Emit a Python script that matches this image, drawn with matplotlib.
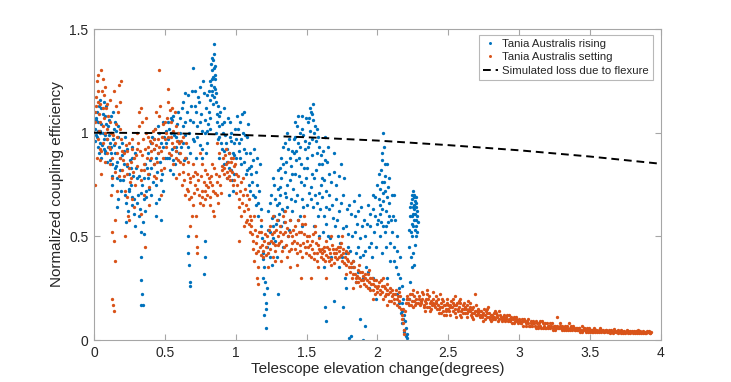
import matplotlib
matplotlib.use("Agg")
import matplotlib.pyplot as plt

plt.rcParams['font.family'] = ['Liberation Sans', 'DejaVu Sans']

# ---- data ----
rising_points = [
    (0.01,1.02),(0.02,0.98),(0.03,1.05),(0.04,0.95),(0.05,1.12),(0.06,1.0),(0.07,0.92),(0.08,1.08),(0.09,0.97),(0.02,1.1),(0.05,0.88),(0.07,1.15),(0.1,1.03),(0.04,1.0),(0.08,0.9),
    (0.11,0.95),(0.12,1.08),(0.13,0.85),(0.14,1.02),(0.15,0.9),(0.16,0.78),(0.17,0.98),(0.18,0.88),(0.19,0.72),(0.12,0.93),(0.15,1.05),(0.18,0.82),(0.2,0.95),(0.13,0.75),(0.17,0.68),
    (0.21,0.85),(0.22,0.7),(0.23,0.92),(0.24,0.62),(0.25,0.8),(0.26,0.75),(0.27,0.88),(0.28,0.68),(0.29,0.55),(0.3,0.78),(0.22,0.98),(0.25,0.72),(0.27,0.65),(0.29,0.9),(0.26,0.83),
    (0.31,0.7),(0.32,0.6),(0.33,0.52),(0.34,0.75),(0.35,0.68),(0.36,0.85),(0.37,0.72),(0.38,0.9),(0.39,0.8),(0.4,0.95),(0.33,0.4),(0.335,0.29),(0.34,0.22),(0.33,0.17),(0.345,0.17),(0.36,0.62),(0.38,0.78),(0.4,0.7),
    (0.41,0.98),(0.42,0.85),(0.43,1.02),(0.44,0.75),(0.45,0.9),(0.46,0.68),(0.47,0.95),(0.48,0.8),(0.49,1.05),(0.5,0.88),(0.44,0.6),(0.47,0.58),(0.42,0.92),(0.46,1.0),(0.49,0.72),
    (0.51,0.95),(0.52,1.05),(0.53,0.88),(0.54,1.0),(0.55,0.92),(0.56,1.08),(0.57,0.85),(0.58,0.98),(0.59,1.1),(0.6,0.9),(0.53,1.02),(0.56,0.8),(0.58,0.93),(0.55,1.06),
    (0.61,1.0),(0.62,1.12),(0.63,0.95),(0.64,1.05),(0.65,0.88),(0.66,1.18),(0.67,1.0),(0.68,0.9),(0.69,1.2),(0.7,1.05),(0.66,0.5),(0.665,0.42),(0.67,0.36),(0.675,0.28),(0.68,0.26),(0.63,1.15),(0.70,1.31),
    (0.71,1.2),(0.72,1.1),(0.73,0.98),(0.74,1.15),(0.75,1.05),(0.76,0.92),(0.77,1.25),(0.78,1.0),(0.79,1.12),(0.8,0.95),(0.72,0.88),(0.75,1.22),(0.78,0.48),(0.78,0.4),(0.775,0.32),(0.79,0.9),(0.8,1.18),
    (0.81,1.1),(0.82,1.25),(0.83,1.3),(0.835,1.2),(0.84,1.35),(0.845,1.22),(0.85,1.38),(0.855,1.28),(0.86,1.15),(0.87,1.05),(0.88,0.98),(0.89,1.1),(0.9,0.92),(0.85,1.43),(0.83,1.18),(0.84,1.27),(0.86,1.0),(0.88,0.88),(0.82,1.02),
    (0.91,1.0),(0.92,0.85),(0.93,0.95),(0.94,0.78),(0.95,0.9),(0.96,1.05),(0.97,0.82),(0.98,0.72),(0.99,0.95),(1.0,0.88),(0.92,1.12),(0.95,0.7),(0.97,1.0),(0.99,0.8),
    (1.01,1.08),(1.02,0.95),(1.03,1.05),(1.04,0.85),(1.05,1.0),(1.06,0.92),(1.07,0.8),(1.08,0.98),(1.09,0.75),(1.1,0.9),(1.03,0.88),(1.06,1.1),(1.08,0.82),(1.1,0.72),
    (1.11,0.8),(1.12,0.7),(1.13,0.92),(1.14,0.65),(1.15,0.75),(1.16,0.6),(1.17,0.85),(1.18,0.55),(1.19,0.42),(1.2,0.35),(1.19,0.3),(1.2,0.22),(1.21,0.18),(1.2,0.12),(1.21,0.06),(1.22,0.25),(1.15,0.88),
    (1.22,0.45),(1.23,0.62),(1.24,0.4),(1.25,0.7),(1.26,0.55),(1.27,0.75),(1.28,0.48),(1.29,0.65),(1.3,0.82),(1.24,0.52),(1.27,0.6),(1.29,0.4),(1.3,0.58),(1.26,0.78),(1.30,0.22),
    (1.31,0.7),(1.32,0.55),(1.33,0.85),(1.34,0.62),(1.35,0.95),(1.36,0.75),(1.37,0.5),(1.38,0.88),(1.39,0.68),(1.4,0.8),(1.33,0.45),(1.36,1.0),(1.38,0.58),(1.32,0.78),
    (1.41,0.9),(1.42,1.05),(1.43,0.7),(1.44,0.95),(1.45,0.6),(1.46,0.85),(1.47,1.08),(1.48,0.75),(1.49,0.92),(1.5,0.65),(1.42,0.8),(1.45,1.0),(1.47,0.55),(1.5,0.88),
    (1.51,1.05),(1.52,0.95),(1.53,1.1),(1.54,0.8),(1.55,1.0),(1.56,0.7),(1.57,0.9),(1.58,0.6),(1.59,0.85),(1.6,0.75),(1.53,0.68),(1.55,0.55),(1.57,1.02),(1.59,0.5),
    (1.61,0.85),(1.62,0.6),(1.63,0.98),(1.64,0.72),(1.65,0.5),(1.66,0.8),(1.67,0.4),(1.68,0.65),(1.69,0.9),(1.7,0.55),(1.63,0.16),(1.64,0.09),(1.69,0.19),(1.62,0.35),(1.66,0.7),
    (1.71,0.75),(1.72,0.5),(1.73,0.62),(1.74,0.85),(1.75,0.4),(1.76,0.7),(1.77,0.3),(1.78,0.55),(1.79,0.45),(1.8,0.65),(1.76,0.16),(1.78,0.25),(1.8,0.01),(1.81,0.02),(1.73,0.35),
    (1.82,0.5),(1.83,0.35),(1.84,0.6),(1.85,0.28),(1.86,0.45),(1.87,0.7),(1.88,0.4),(1.89,0.55),(1.9,0.3),(1.88,0.1),(1.91,0.07),(1.9,0.0),(1.84,0.52),(1.86,0.62),
    (1.91,0.5),(1.92,0.35),(1.93,0.65),(1.94,0.25),(1.95,0.55),(1.96,0.4),(1.97,0.7),(1.98,0.6),(1.99,0.45),(2.0,0.75),(1.94,0.45),(1.97,0.3),(1.99,0.2),
    (2.01,0.8),(2.02,0.65),(2.03,0.9),(2.04,0.55),(2.04,1.0),(2.05,0.72),(2.06,0.45),(2.07,0.85),(2.08,0.6),(2.09,0.38),(2.1,0.7),(2.02,0.5),(2.05,0.85),(2.07,0.3),(2.03,0.42),(2.06,0.62),(2.08,0.78),
    (2.11,0.6),(2.12,0.45),(2.13,0.35),(2.14,0.5),(2.15,0.25),(2.16,0.4),(2.17,0.18),(2.18,0.1),(2.19,0.05),(2.2,0.02),(2.21,0.01),(2.18,0.2),(2.16,0.3),(2.19,0.12),(2.2,0.06),(2.14,0.22),(2.12,0.7),(2.17,0.08),
    (2.22,0.45),(2.23,0.6),(2.24,0.68),(2.25,0.55),(2.26,0.65),(2.27,0.5),(2.28,0.62),(2.24,0.35),(2.25,0.72),(2.26,0.58),(2.27,0.66),(2.23,0.28),(2.28,0.52),(2.25,0.42),(2.26,0.7),(2.24,0.6),(2.27,0.58),(2.22,0.2),
]

rising_points_b = [
    (0.005,0.96),(0.015,1.07),(0.025,0.93),(0.035,1.13),(0.045,1.01),(0.055,0.94),(0.065,1.09),(0.075,0.99),(0.085,1.04),(0.095,0.86),(0.015,0.99),(0.045,1.16),(0.075,0.91),
    (0.105,0.99),(0.115,0.87),(0.125,0.79),(0.135,0.97),(0.145,0.83),(0.155,1.01),(0.165,0.86),(0.175,0.93),(0.185,0.77),(0.195,0.89),(0.135,1.1),(0.165,0.64),
    (0.205,0.77),(0.215,0.91),(0.225,0.66),(0.235,0.84),(0.245,0.73),(0.255,0.87),(0.265,0.69),(0.275,0.79),(0.285,0.61),(0.295,0.83),(0.225,0.57),(0.265,0.93),
    (0.305,0.66),(0.315,0.79),(0.325,0.63),(0.335,0.71),(0.345,0.57),(0.355,0.78),(0.365,0.69),(0.375,0.83),(0.385,0.73),(0.395,0.87),(0.355,0.51),
    (0.405,0.83),(0.415,0.76),(0.425,0.97),(0.435,0.88),(0.445,0.81),(0.455,1.03),(0.465,0.86),(0.475,0.77),(0.485,0.93),(0.495,0.98),(0.435,0.66),
    (0.505,1.01),(0.515,0.88),(0.525,0.97),(0.535,0.82),(0.545,1.07),(0.555,0.87),(0.565,0.99),(0.575,0.91),(0.585,1.04),(0.595,0.96),
    (0.605,1.07),(0.615,0.93),(0.625,1.03),(0.635,0.87),(0.645,0.99),(0.655,1.1),(0.665,0.93),(0.675,1.06),(0.685,1.13),(0.695,0.97),(0.645,1.19),
    (0.705,0.96),(0.715,1.13),(0.725,1.03),(0.735,1.17),(0.745,0.94),(0.755,1.09),(0.765,1.01),(0.775,1.19),(0.785,1.06),(0.795,1.01),(0.765,0.88),
    (0.805,1.04),(0.815,1.16),(0.825,1.33),(0.835,1.26),(0.845,1.17),(0.855,1.32),(0.865,1.09),(0.875,1.13),(0.885,1.03),(0.895,0.95),(0.835,1.36),(0.845,1.31),(0.855,1.21),
    (0.905,1.04),(0.915,0.91),(0.925,0.99),(0.935,0.86),(0.945,1.07),(0.955,0.83),(0.965,0.96),(0.975,0.77),(0.985,0.89),(0.995,1.02),
    (1.005,0.97),(1.015,1.02),(1.025,0.91),(1.035,0.97),(1.045,1.09),(1.055,0.86),(1.065,0.99),(1.075,0.9),(1.085,1.04),(1.095,0.83),
    (1.105,0.84),(1.115,0.76),(1.125,0.87),(1.135,0.69),(1.145,0.81),(1.155,0.66),(1.165,0.72),(1.175,0.63),(1.185,0.49),(1.195,0.39),(1.205,0.28),(1.215,0.15),
    (1.225,0.53),(1.235,0.47),(1.245,0.66),(1.255,0.59),(1.265,0.49),(1.275,0.68),(1.285,0.56),(1.295,0.73),(1.255,0.36),
    (1.305,0.66),(1.315,0.83),(1.325,0.63),(1.335,0.93),(1.345,0.71),(1.355,0.86),(1.365,0.64),(1.375,0.97),(1.385,0.77),(1.395,0.91),
    (1.405,0.73),(1.415,0.98),(1.425,0.87),(1.435,1.03),(1.445,0.79),(1.455,0.93),(1.465,0.68),(1.475,0.99),(1.485,0.83),(1.495,1.07),
    (1.505,0.83),(1.515,0.71),(1.525,1.01),(1.535,0.89),(1.545,1.06),(1.555,0.78),(1.565,0.96),(1.575,0.66),(1.585,0.93),(1.595,0.63),(1.535,1.09),
    (1.605,0.69),(1.615,0.91),(1.625,0.77),(1.635,0.56),(1.645,0.86),(1.655,0.63),(1.665,0.49),(1.675,0.76),(1.685,0.59),(1.695,0.81),
    (1.705,0.68),(1.715,0.58),(1.725,0.79),(1.735,0.47),(1.745,0.66),(1.755,0.54),(1.765,0.78),(1.775,0.42),(1.785,0.63),(1.795,0.51),
    (1.805,0.43),(1.815,0.61),(1.825,0.38),(1.835,0.67),(1.845,0.42),(1.855,0.56),(1.865,0.33),(1.875,0.49),(1.885,0.64),(1.895,0.41),
    (1.905,0.58),(1.915,0.43),(1.925,0.56),(1.935,0.33),(1.945,0.61),(1.955,0.47),(1.965,0.63),(1.975,0.52),(1.985,0.69),(1.995,0.56),
    (2.005,0.58),(2.015,0.73),(2.025,0.82),(2.035,0.63),(2.045,0.76),(2.055,0.52),(2.065,0.69),(2.075,0.57),(2.085,0.47),(2.095,0.58),(2.035,0.87),(2.045,0.93),
    (2.105,0.52),(2.115,0.38),(2.125,0.58),(2.135,0.43),(2.145,0.32),(2.155,0.18),(2.165,0.13),(2.175,0.26),(2.185,0.04),(2.195,0.09),(2.205,0.03),(2.175,0.14),
    (2.225,0.53),(2.235,0.66),(2.245,0.5),(2.255,0.63),(2.265,0.46),(2.275,0.69),(2.235,0.4),(2.255,0.36),(2.265,0.61),(2.245,0.56),(2.275,0.64),(2.285,0.57),
]

rising_points_c = [
    (0.012,1.06),(0.028,1.01),(0.038,0.9),(0.052,1.04),(0.068,0.97),(0.082,1.13),(0.098,0.93),(0.108,1.06),(0.122,0.9),(0.142,0.94),(0.158,0.84),(0.172,1.03),
    (0.808,1.2),(0.818,1.07),(0.828,1.23),(0.842,1.14),(0.852,1.26),(0.862,1.19),(0.872,0.97),(0.882,1.08),(0.918,1.05),(0.938,0.92),(0.958,0.98),(0.978,0.9),
    (1.302,0.61),(1.312,0.74),(1.322,0.88),(1.338,0.57),(1.348,0.81),(1.358,0.69),(1.368,0.92),(1.378,0.53),(1.388,0.84),(1.398,0.62),
    (1.408,0.97),(1.418,0.67),(1.428,0.91),(1.438,0.58),(1.448,0.88),(1.458,0.76),(1.468,1.02),(1.478,0.64),(1.488,0.96),(1.498,0.78),
    (1.508,0.93),(1.518,1.07),(1.528,0.74),(1.538,0.97),(1.548,0.64),(1.558,1.03),(1.568,0.82),(1.578,0.98),(1.588,0.71),(1.598,0.89),
    (1.608,0.78),(1.618,0.52),(1.628,0.87),(1.638,0.64),(1.648,0.93),(1.522,1.12),(1.548,1.14),(1.438,1.08),
    (2.012,0.68),(2.022,0.57),(2.032,0.76),(2.042,0.67),(2.052,0.79),(2.062,0.55),(2.072,0.74),(2.082,0.66),(2.018,0.61),(2.038,0.71),
    (2.232,0.64),(2.242,0.7),(2.252,0.61),(2.262,0.67),(2.272,0.55),(2.238,0.52),(2.258,0.69),(2.268,0.53),(2.248,0.64),(2.278,0.6),
]

setting_points = [
    (0.01,1.1),(0.02,1.25),(0.03,1.15),(0.04,1.05),(0.05,1.3),(0.06,0.95),(0.07,1.18),(0.08,1.0),(0.09,0.9),(0.1,1.08),(0.02,0.88),(0.03,1.2),(0.05,0.8),(0.06,1.12),(0.08,1.22),(0.01,0.75),(0.04,0.92),(0.09,1.02),
    (0.11,0.85),(0.12,1.0),(0.13,0.78),(0.14,1.2),(0.15,0.95),(0.16,0.72),(0.17,1.1),(0.18,0.88),(0.19,1.25),(0.2,0.82),(0.13,0.52),(0.14,0.48),(0.145,0.38),(0.13,0.2),(0.135,0.17),(0.14,0.14),(0.15,0.58),(0.11,1.05),(0.16,0.9),(0.18,1.15),(0.12,0.7),
    (0.21,0.9),(0.22,0.72),(0.23,0.85),(0.24,0.6),(0.25,0.95),(0.26,0.78),(0.27,0.68),(0.28,0.88),(0.29,0.75),(0.3,1.0),(0.22,0.5),(0.25,0.58),(0.27,0.92),(0.23,0.8),
    (0.31,0.95),(0.32,1.1),(0.33,0.82),(0.34,1.05),(0.35,0.7),(0.36,0.92),(0.37,1.0),(0.38,0.8),(0.39,0.65),(0.4,0.88),(0.33,1.12),(0.36,0.45),(0.38,0.98),(0.35,0.85),
    (0.41,0.95),(0.42,0.85),(0.43,1.02),(0.44,0.78),(0.45,0.9),(0.46,1.08),(0.47,0.82),(0.48,0.98),(0.49,0.88),(0.5,1.05),(0.44,1.1),(0.47,0.7),(0.42,0.92),
    (0.51,1.0),(0.52,1.15),(0.53,0.9),(0.54,1.05),(0.55,0.95),(0.56,0.85),(0.57,1.1),(0.58,0.88),(0.59,1.0),(0.6,0.8),(0.46,1.3),(0.52,1.21),(0.55,1.12),(0.58,0.78),(0.6,0.95),
    (0.61,0.9),(0.62,0.75),(0.63,0.85),(0.64,0.7),(0.65,0.95),(0.66,0.8),(0.67,0.68),(0.68,0.78),(0.69,0.6),(0.7,0.85),(0.66,0.72),(0.68,0.55),(0.63,0.98),(0.7,0.65),
    (0.71,0.75),(0.72,0.6),(0.73,0.8),(0.74,0.7),(0.75,0.9),(0.76,0.72),(0.77,0.65),(0.78,0.82),(0.79,0.75),(0.8,0.7),(0.72,0.5),(0.725,0.45),(0.73,0.42),(0.76,0.85),(0.78,0.68),
    (0.81,0.78),(0.82,0.65),(0.83,0.85),(0.84,0.72),(0.85,0.6),(0.86,0.8),(0.87,0.7),(0.88,0.9),(0.89,0.75),(0.9,0.82),(0.84,0.62),(0.87,0.95),(0.82,0.76),
    (0.91,0.88),(0.92,0.8),(0.93,0.85),(0.94,0.78),(0.95,0.9),(0.96,0.82),(0.97,0.86),(0.98,0.75),(0.99,0.84),(1.0,0.8),(0.93,0.92),(0.96,0.77),(0.98,0.88),
    (1.01,0.75),(1.02,0.68),(1.03,0.72),(1.04,0.6),(1.05,0.7),(1.06,0.55),(1.07,0.65),(1.08,0.58),(1.09,0.68),(1.1,0.6),(1.02,0.48),(1.05,0.78),(1.08,0.7),(1.1,0.52),
    (1.11,0.55),(1.12,0.48),(1.13,0.6),(1.14,0.42),(1.15,0.5),(1.16,0.35),(1.17,0.45),(1.18,0.52),(1.19,0.4),(1.2,0.48),(1.15,0.3),(1.16,0.27),(1.13,0.38),(1.18,0.58),
    (1.21,0.45),(1.22,0.5),(1.23,0.42),(1.24,0.55),(1.25,0.48),(1.26,0.4),(1.27,0.52),(1.28,0.46),(1.29,0.58),(1.3,0.5),(1.23,0.35),(1.26,0.6),(1.28,0.38),
    (1.31,0.55),(1.32,0.48),(1.33,0.6),(1.34,0.45),(1.35,0.52),(1.36,0.4),(1.37,0.5),(1.38,0.58),(1.39,0.44),(1.4,0.5),(1.32,0.38),(1.35,0.62),(1.38,0.35),
    (1.41,0.48),(1.42,0.55),(1.43,0.42),(1.44,0.58),(1.45,0.46),(1.46,0.52),(1.47,0.4),(1.48,0.6),(1.49,0.45),(1.5,0.5),(1.43,0.36),(1.46,0.3),(1.49,0.56),
    (1.51,0.45),(1.52,0.5),(1.53,0.4),(1.54,0.48),(1.55,0.42),(1.56,0.52),(1.57,0.38),(1.58,0.46),(1.59,0.44),(1.6,0.4),(1.53,0.3),(1.56,0.55),(1.58,0.35),
    (1.61,0.42),(1.62,0.45),(1.63,0.38),(1.64,0.48),(1.65,0.4),(1.66,0.44),(1.67,0.36),(1.68,0.46),(1.69,0.42),(1.7,0.4),(1.64,0.3),(1.67,0.5),
    (1.71,0.42),(1.72,0.45),(1.73,0.4),(1.74,0.47),(1.75,0.38),(1.76,0.44),(1.77,0.4),(1.78,0.36),(1.79,0.42),(1.8,0.35),(1.75,0.5),(1.78,0.32),
    (1.81,0.35),(1.82,0.3),(1.83,0.38),(1.84,0.32),(1.85,0.28),(1.86,0.34),(1.87,0.3),(1.88,0.26),(1.89,0.33),(1.9,0.29),(1.83,0.25),(1.87,0.36),
    (1.91,0.3),(1.92,0.26),(1.93,0.32),(1.94,0.28),(1.95,0.24),(1.96,0.3),(1.97,0.27),(1.98,0.22),(1.99,0.29),(2.0,0.25),(1.94,0.34),(1.97,0.2),
    (2.01,0.28),(2.02,0.24),(2.03,0.26),(2.04,0.2),(2.05,0.25),(2.06,0.22),(2.07,0.27),(2.08,0.19),(2.09,0.23),(2.1,0.21),(2.04,0.3),(2.07,0.17),
    (2.11,0.22),(2.12,0.18),(2.13,0.24),(2.14,0.2),(2.15,0.16),(2.16,0.21),(2.17,0.12),(2.18,0.08),(2.19,0.05),(2.2,0.18),(2.18,0.15),(2.15,0.23),
    (2.21,0.2),(2.22,0.17),(2.23,0.22),(2.24,0.19),(2.25,0.16),(2.26,0.21),(2.27,0.18),(2.28,0.23),(2.29,0.2),(2.3,0.17),(2.25,0.24),
    (2.31,0.19),(2.32,0.22),(2.33,0.17),(2.34,0.2),(2.35,0.16),(2.36,0.21),(2.37,0.18),(2.38,0.15),(2.39,0.2),(2.4,0.17),(2.35,0.24),
    (2.41,0.18),(2.42,0.15),(2.43,0.2),(2.44,0.16),(2.45,0.13),(2.46,0.19),(2.47,0.17),(2.48,0.14),(2.49,0.18),(2.5,0.15),(2.44,0.22),(2.48,0.12),
    (2.51,0.16),(2.52,0.19),(2.53,0.14),(2.54,0.17),(2.55,0.13),(2.56,0.18),(2.57,0.15),(2.58,0.2),(2.59,0.14),(2.6,0.17),(2.55,0.21),(2.58,0.12),
    (2.61,0.15),(2.62,0.13),(2.63,0.17),(2.64,0.14),(2.65,0.16),(2.66,0.12),(2.67,0.15),(2.68,0.13),(2.69,0.22),(2.7,0.14),(2.64,0.19),(2.67,0.11),
    (2.71,0.13),(2.72,0.11),(2.73,0.14),(2.74,0.12),(2.75,0.15),(2.76,0.1),(2.77,0.13),(2.78,0.16),(2.79,0.11),(2.8,0.12),
    (2.81,0.11),(2.82,0.13),(2.83,0.1),(2.84,0.12),(2.85,0.09),(2.86,0.14),(2.87,0.11),(2.88,0.1),(2.89,0.12),(2.9,0.09),
    (2.91,0.11),(2.92,0.09),(2.93,0.12),(2.94,0.1),(2.95,0.08),(2.96,0.11),(2.97,0.09),(2.98,0.1),(2.99,0.08),(3.0,0.1),
    (3.01,0.08),(3.02,0.1),(3.03,0.07),(3.04,0.09),(3.05,0.08),(3.06,0.1),(3.07,0.07),(3.08,0.09),(3.09,0.07),(3.1,0.08),
    (3.11,0.07),(3.12,0.09),(3.13,0.06),(3.14,0.08),(3.15,0.07),(3.16,0.09),(3.17,0.06),(3.18,0.08),(3.19,0.06),(3.2,0.07),
    (3.21,0.07),(3.22,0.06),(3.23,0.08),(3.24,0.05),(3.25,0.07),(3.26,0.06),(3.27,0.11),(3.28,0.06),(3.29,0.08),(3.3,0.05),
    (3.31,0.06),(3.32,0.07),(3.33,0.05),(3.34,0.06),(3.35,0.08),(3.36,0.05),(3.37,0.06),(3.38,0.07),(3.39,0.05),(3.4,0.06),
    (3.41,0.05),(3.42,0.06),(3.43,0.04),(3.44,0.07),(3.45,0.05),(3.46,0.06),(3.47,0.04),(3.48,0.05),(3.49,0.06),(3.5,0.04),
    (3.51,0.05),(3.52,0.04),(3.53,0.06),(3.54,0.05),(3.55,0.04),(3.56,0.05),(3.57,0.06),(3.58,0.04),(3.59,0.05),(3.6,0.04),
    (3.61,0.05),(3.62,0.04),(3.63,0.05),(3.64,0.035),(3.65,0.05),(3.66,0.04),(3.67,0.055),(3.68,0.04),(3.69,0.045),(3.7,0.035),
    (3.71,0.04),(3.72,0.05),(3.73,0.035),(3.74,0.045),(3.75,0.04),(3.76,0.05),(3.77,0.035),(3.78,0.045),(3.79,0.04),(3.8,0.035),
    (3.81,0.045),(3.82,0.04),(3.83,0.035),(3.84,0.05),(3.85,0.04),(3.86,0.035),(3.87,0.045),(3.88,0.04),(3.89,0.035),(3.9,0.045),(3.91,0.04),(3.92,0.035),(3.93,0.04),
]

setting_points_b = [
    (0.005,1.05),(0.015,1.17),(0.025,0.97),(0.035,1.09),(0.045,0.87),(0.055,1.2),(0.065,1.03),(0.075,0.86),(0.085,1.12),(0.095,0.97),(0.025,1.28),(0.065,1.26),(0.045,1.14),
    (0.105,0.93),(0.115,1.16),(0.125,0.88),(0.135,0.99),(0.145,0.81),(0.155,1.13),(0.165,0.98),(0.175,0.79),(0.185,1.02),(0.195,0.91),(0.175,1.23),
    (0.205,0.87),(0.215,0.79),(0.225,0.94),(0.235,0.69),(0.245,0.83),(0.255,0.76),(0.265,0.97),(0.275,0.81),(0.285,0.64),(0.295,0.89),
    (0.305,0.84),(0.315,1.03),(0.325,0.91),(0.335,0.77),(0.345,0.97),(0.355,0.82),(0.365,1.07),(0.375,0.88),(0.385,0.74),(0.395,0.96),(0.335,0.61),
    (0.405,0.91),(0.415,1.01),(0.425,0.79),(0.435,0.94),(0.445,0.86),(0.455,0.97),(0.465,1.13),(0.475,0.91),(0.485,1.04),(0.495,0.83),
    (0.505,0.93),(0.515,1.07),(0.525,0.98),(0.535,1.11),(0.545,0.89),(0.555,1.01),(0.565,0.93),(0.575,1.03),(0.585,0.96),(0.595,0.87),
    (0.605,0.86),(0.615,0.96),(0.625,0.81),(0.635,0.77),(0.645,0.88),(0.655,0.73),(0.665,0.86),(0.675,0.76),(0.685,0.69),(0.695,0.79),
    (0.705,0.71),(0.715,0.81),(0.725,0.73),(0.735,0.77),(0.745,0.66),(0.755,0.79),(0.765,0.69),(0.775,0.76),(0.785,0.72),(0.795,0.8),
    (0.805,0.74),(0.815,0.69),(0.825,0.79),(0.835,0.75),(0.845,0.83),(0.855,0.71),(0.865,0.76),(0.875,0.66),(0.885,0.79),(0.895,0.71),
    (0.905,0.84),(0.915,0.83),(0.925,0.89),(0.935,0.81),(0.945,0.86),(0.955,0.79),(0.965,0.88),(0.975,0.81),(0.985,0.77),(0.995,0.85),
    (1.005,0.71),(1.015,0.79),(1.025,0.64),(1.035,0.76),(1.045,0.66),(1.055,0.62),(1.065,0.73),(1.075,0.57),(1.085,0.63),(1.095,0.56),
    (1.105,0.58),(1.115,0.51),(1.125,0.44),(1.135,0.53),(1.145,0.47),(1.155,0.43),(1.165,0.52),(1.175,0.41),(1.185,0.46),(1.195,0.43),
    (1.205,0.51),(1.215,0.41),(1.225,0.47),(1.235,0.53),(1.245,0.44),(1.255,0.51),(1.265,0.47),(1.275,0.43),(1.285,0.53),(1.295,0.46),
    (1.305,0.47),(1.315,0.52),(1.325,0.43),(1.335,0.51),(1.345,0.57),(1.355,0.46),(1.365,0.54),(1.375,0.43),(1.385,0.52),(1.395,0.47),
    (1.405,0.53),(1.415,0.44),(1.425,0.51),(1.435,0.47),(1.445,0.52),(1.455,0.43),(1.465,0.56),(1.475,0.47),(1.485,0.51),(1.495,0.42),
    (1.505,0.48),(1.515,0.41),(1.525,0.46),(1.535,0.44),(1.545,0.51),(1.555,0.39),(1.565,0.47),(1.575,0.42),(1.585,0.49),(1.595,0.43),
    (1.605,0.44),(1.615,0.39),(1.625,0.43),(1.635,0.41),(1.645,0.45),(1.655,0.38),(1.665,0.42),(1.675,0.39),(1.685,0.44),(1.695,0.37),
    (1.705,0.44),(1.715,0.39),(1.725,0.43),(1.735,0.45),(1.745,0.41),(1.755,0.42),(1.765,0.37),(1.775,0.43),(1.785,0.39),(1.795,0.38),
    (1.805,0.33),(1.815,0.37),(1.825,0.32),(1.835,0.35),(1.845,0.3),(1.855,0.31),(1.865,0.28),(1.875,0.33),(1.885,0.29),(1.895,0.31),
    (1.905,0.27),(1.915,0.32),(1.925,0.29),(1.935,0.25),(1.945,0.3),(1.955,0.27),(1.965,0.24),(1.975,0.29),(1.985,0.26),(1.995,0.23),
    (2.005,0.26),(2.015,0.22),(2.025,0.29),(2.035,0.23),(2.045,0.26),(2.055,0.21),(2.065,0.24),(2.075,0.22),(2.085,0.25),(2.095,0.19),
    (2.105,0.24),(2.115,0.2),(2.125,0.22),(2.135,0.17),(2.145,0.21),(2.155,0.19),(2.165,0.15),(2.175,0.1),(2.185,0.03),(2.195,0.14),(2.205,0.2),
    (2.205,0.21),(2.215,0.18),(2.225,0.2),(2.235,0.17),(2.245,0.22),(2.255,0.19),(2.265,0.17),(2.275,0.2),(2.285,0.18),(2.295,0.21),
    (2.305,0.18),(2.315,0.2),(2.325,0.16),(2.335,0.19),(2.345,0.18),(2.355,0.2),(2.365,0.16),(2.375,0.19),(2.385,0.17),(2.395,0.18),
    (2.405,0.16),(2.415,0.19),(2.425,0.17),(2.435,0.15),(2.445,0.18),(2.455,0.16),(2.465,0.14),(2.475,0.17),(2.485,0.15),(2.495,0.17),
    (2.505,0.14),(2.515,0.17),(2.525,0.16),(2.535,0.18),(2.545,0.15),(2.555,0.17),(2.565,0.14),(2.575,0.16),(2.585,0.18),(2.595,0.15),
    (2.605,0.13),(2.615,0.16),(2.625,0.15),(2.635,0.13),(2.645,0.15),(2.655,0.14),(2.665,0.13),(2.675,0.16),(2.685,0.14),(2.695,0.12),
    (2.705,0.12),(2.715,0.14),(2.725,0.12),(2.735,0.11),(2.745,0.13),(2.755,0.12),(2.765,0.14),(2.775,0.11),(2.785,0.13),(2.795,0.1),
    (2.805,0.12),(2.815,0.1),(2.825,0.11),(2.835,0.13),(2.845,0.11),(2.855,0.1),(2.865,0.12),(2.875,0.09),(2.885,0.11),(2.895,0.1),
    (2.905,0.1),(2.915,0.12),(2.925,0.1),(2.935,0.09),(2.945,0.11),(2.955,0.1),(2.965,0.08),(2.975,0.11),(2.985,0.09),(2.995,0.09),
    (3.005,0.09),(3.015,0.08),(3.025,0.09),(3.035,0.1),(3.045,0.07),(3.055,0.09),(3.065,0.08),(3.075,0.07),(3.085,0.08),(3.095,0.09),
    (3.105,0.08),(3.115,0.06),(3.125,0.08),(3.135,0.07),(3.145,0.09),(3.155,0.06),(3.165,0.08),(3.175,0.07),(3.185,0.06),(3.195,0.08),
    (3.205,0.06),(3.215,0.08),(3.225,0.07),(3.235,0.06),(3.245,0.07),(3.255,0.05),(3.265,0.07),(3.275,0.06),(3.285,0.07),(3.295,0.06),
    (3.305,0.07),(3.315,0.05),(3.325,0.06),(3.335,0.07),(3.345,0.05),(3.355,0.06),(3.365,0.07),(3.375,0.05),(3.385,0.06),(3.395,0.05),
    (3.405,0.06),(3.415,0.05),(3.425,0.06),(3.435,0.05),(3.445,0.04),(3.455,0.06),(3.465,0.05),(3.475,0.06),(3.485,0.04),(3.495,0.05),
    (3.505,0.05),(3.515,0.04),(3.525,0.05),(3.535,0.04),(3.545,0.05),(3.555,0.045),(3.565,0.04),(3.575,0.05),(3.585,0.045),(3.595,0.04),
    (3.605,0.045),(3.615,0.05),(3.625,0.04),(3.635,0.045),(3.645,0.04),(3.655,0.045),(3.665,0.035),(3.675,0.045),(3.685,0.04),(3.695,0.05),
    (3.705,0.04),(3.715,0.035),(3.725,0.045),(3.735,0.04),(3.745,0.035),(3.755,0.04),(3.765,0.045),(3.775,0.04),(3.785,0.035),(3.795,0.045),
    (3.805,0.04),(3.815,0.035),(3.825,0.045),(3.835,0.04),(3.845,0.035),(3.855,0.045),(3.865,0.04),(3.875,0.035),(3.885,0.04),(3.895,0.035),
    (3.905,0.04),(3.915,0.045),(3.925,0.035),
]

setting_points_c = [
    (0.012,1.13),(0.032,1.01),(0.052,0.91),(0.072,1.07),(0.092,1.14),(0.112,0.92),(0.152,1.04),(0.192,0.97),(0.232,0.91),(0.262,0.86),
    (0.302,0.92),(0.342,0.89),(0.382,0.93),(0.422,0.97),(0.462,0.93),(0.502,0.97),(0.542,0.98),(0.582,0.91),
    (2.312,0.23),(2.332,0.14),(2.352,0.22),(2.372,0.14),(2.392,0.23),(2.412,0.21),(2.432,0.13),(2.452,0.2),(2.472,0.12),(2.492,0.2),
    (2.512,0.12),(2.532,0.2),(2.552,0.11),(2.572,0.19),(2.592,0.11),(2.612,0.18),(2.632,0.11),(2.652,0.18),(2.672,0.1),(2.692,0.17),
    (2.712,0.15),(2.742,0.09),(2.772,0.15),(2.802,0.09),(2.832,0.14),
]

flexure_x = [0.0, 0.5, 1.0, 1.5, 2.0, 2.5, 3.0, 3.5, 4.0]
flexure_y = [1.0, 0.998, 0.99, 0.978, 0.962, 0.94, 0.915, 0.885, 0.85]

x_ticks = [0, 0.5, 1, 1.5, 2, 2.5, 3, 3.5, 4]
x_tick_labels = ['0', '0.5', '1', '1.5', '2', '2.5', '3', '3.5', '4']
y_ticks = [0, 0.5, 1, 1.5]
y_tick_labels = ['0', '0.5', '1', '1.5']

labels = ['Tania Australis rising', 'Tania Australis setting', 'Simulated loss due to flexure']
BLUE = '#0072BD'
ORANGE = '#D95319'

rx, ry = zip(*(rising_points + rising_points_b + rising_points_c))
sx, sy = zip(*(setting_points + setting_points_b + setting_points_c))

fig = plt.figure(figsize=(7.31, 3.82), dpi=100)
ax = fig.add_axes([0.1286, 0.1099, 0.7756, 0.8141])

ax.plot(rx, ry, 'o', ms=2.4, mew=0, color=BLUE, label=labels[0], zorder=2)
ax.plot(sx, sy, 'o', ms=2.4, mew=0, color=ORANGE, label=labels[1], zorder=2)
ax.plot(flexure_x, flexure_y, '--', color='black', lw=1.4, dashes=(4, 2.5), label=labels[2], zorder=3)

ax.set_xlim(0, 4)
ax.set_ylim(0, 1.5)
ax.set_xticks(x_ticks)
ax.set_xticklabels(x_tick_labels)
ax.set_yticks(y_ticks)
ax.set_yticklabels(y_tick_labels)

for sp in ax.spines.values():
    sp.set_color('#a6a6a6')
    sp.set_linewidth(0.8)
ax.tick_params(direction='in', length=4, width=0.8, color='#a6a6a6', labelcolor='#262626',
               labelsize=10, top=True, right=True, pad=4)

ax.set_xlabel('Telescope elevation change(degrees)', fontsize=11, color='#262626', labelpad=2)
ax.set_ylabel('Normalized coupling efficiency', fontsize=11, color='#262626', labelpad=4)

leg = ax.legend(loc='upper right', bbox_to_anchor=(0.986, 0.981), fontsize=8.2, frameon=True,
                fancybox=False, edgecolor='#a6a6a6', handlelength=1.3, handletextpad=0.4,
                borderpad=0.35, labelspacing=0.3, borderaxespad=0.0, markerscale=0.9)
leg.get_frame().set_linewidth(0.8)
for t in leg.get_texts():
    t.set_color('#262626')

fig.savefig('out.png', dpi=100)
